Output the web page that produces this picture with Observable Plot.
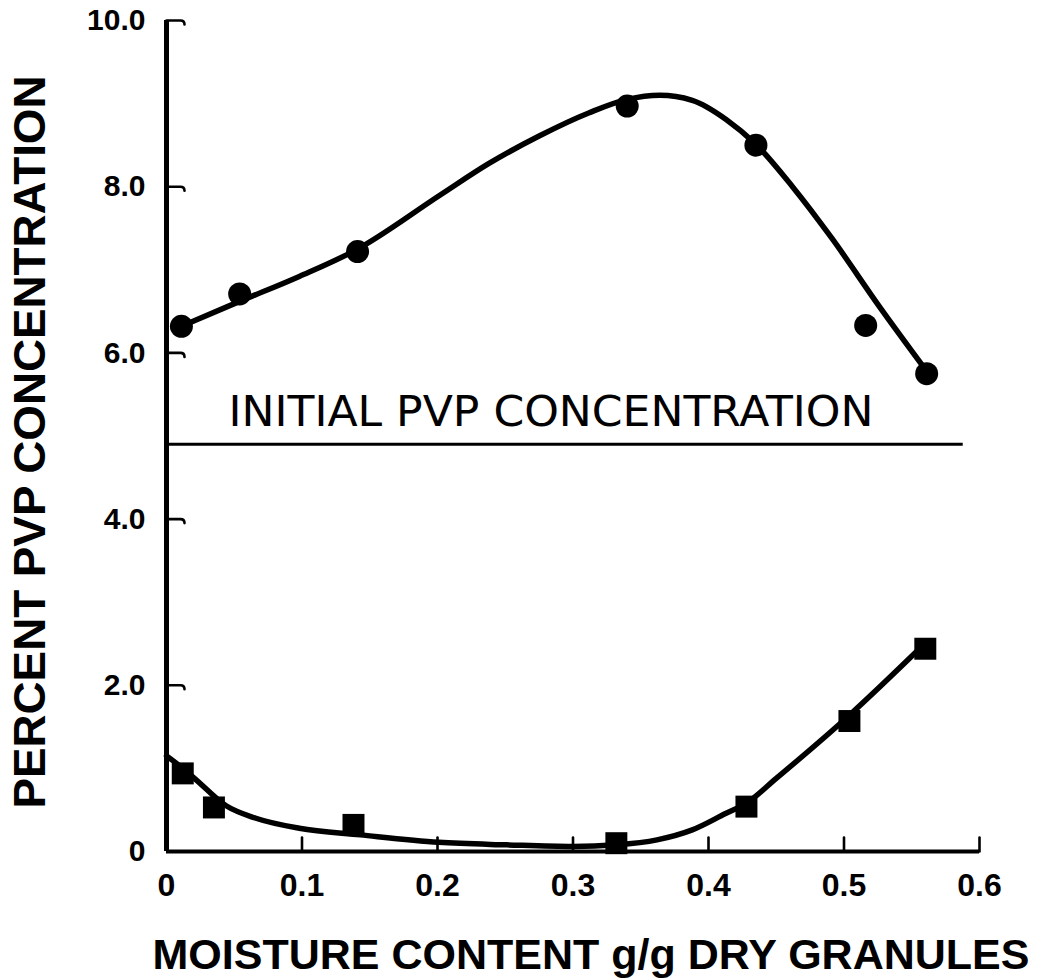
<!DOCTYPE html>
<html>
<head>
<meta charset="utf-8">
<script src="https://cdn.jsdelivr.net/npm/d3@7"></script>
<script src="https://cdn.jsdelivr.net/npm/@observablehq/plot@0.6"></script>
<style>
  html, body { margin: 0; padding: 0; background: #fff; }
  #chart svg { display: block; }
</style>
</head>
<body>
<div id="chart"></div>
<script>
// ---- data ----
const xTicks = [0, 0.1, 0.2, 0.3, 0.4, 0.5, 0.6];
const yTicks = [0, 2, 4, 6, 8, 10];

// measured points (circles: upper series, squares: lower series)
const circleX = [0.011, 0.054, 0.141, 0.340, 0.435, 0.516, 0.561];
const circleY = [6.32, 6.71, 7.22, 8.97, 8.50, 6.33, 5.75];
const squareX = [0.012, 0.035, 0.138, 0.332, 0.428, 0.504, 0.560];
const squareY = [0.94, 0.53, 0.32, 0.10, 0.54, 1.57, 2.44];

// hand-drawn smooth curves
const upperCurveX = [0.011, 0.054, 0.098, 0.140, 0.202, 0.238, 0.275, 0.312, 0.340, 0.364, 0.388, 0.413, 0.435, 0.462, 0.491, 0.526, 0.561];
const upperCurveY = [6.32, 6.62, 6.92, 7.24, 7.90, 8.28, 8.61, 8.89, 9.05, 9.10, 9.04, 8.81, 8.51, 8.00, 7.38, 6.56, 5.78];
const lowerCurveX = [0, 0.005, 0.020, 0.044, 0.066, 0.098, 0.143, 0.201, 0.251, 0.300, 0.332, 0.362, 0.388, 0.413, 0.427, 0.450, 0.504, 0.557];
const lowerCurveY = [1.15, 1.09, 0.89, 0.55, 0.40, 0.28, 0.20, 0.11, 0.08, 0.06, 0.08, 0.14, 0.26, 0.46, 0.57, 0.88, 1.64, 2.46];

const initialConcentration = 4.9;
const initialLineEnd = 0.588;
const initialLabel = "INITIAL PVP CONCENTRATION";
const xTitle = "MOISTURE CONTENT g/g DRY GRANULES";
const yTitle = "PERCENT PVP CONCENTRATION";

// ---- tables built from the arrays ----
const zip = (xs, ys) => xs.map((x, i) => ({x, y: ys[i]}));
const circles = zip(circleX, circleY);
const squares = zip(squareX, squareY);
const upperCurve = zip(upperCurveX, upperCurveY);
const lowerCurve = zip(lowerCurveX, lowerCurveY);

const ink = "#000";
const tickFormat = d => d === 0 ? "0" : d.toFixed(1);
const boldFont = "'Liberation Sans', Arial, sans-serif";

// tick shapes: y ticks point inward with a small downward hook, x ticks point up
const tickShapeY = {
  draw(ctx, l) {
    ctx.moveTo(0, 0);
    ctx.lineTo(0, -(l - 4));
    ctx.quadraticCurveTo(0, -l, 4, -l);
  }
};
const tickShapeX = {
  draw(ctx, l) {
    ctx.moveTo(0, 0);
    ctx.lineTo(0, -l);
  }
};

const chart = Plot.plot({
  width: 1037,
  height: 978,
  marginLeft: 166,
  marginRight: 58,
  marginTop: 20,
  marginBottom: 127,
  x: {domain: [0, 0.6]},
  y: {domain: [0, 10]},
  style: {fontFamily: "'DejaVu Sans', sans-serif", color: ink, background: "#fff", overflow: "visible"},
  marks: [
    Plot.axisX(xTicks, {
      tickSize: 0, tickPadding: 22, label: null, tickFormat,
      fontSize: 32, fontWeight: "bold", fontFamily: boldFont
    }),
    Plot.axisY(yTicks, {
      tickSize: 0, tickPadding: 21, label: null, tickFormat,
      fontSize: 30, fontWeight: "bold", fontFamily: boldFont
    }),
    Plot.vector(yTicks.filter(d => d > 0), {
      x: 0, y: d => d, length: 18, rotate: 90, anchor: "start",
      shape: tickShapeY, stroke: ink, strokeWidth: 2.6
    }),
    Plot.vector(xTicks.filter(d => d > 0), {
      x: d => d, y: 0, length: 14, rotate: 0, anchor: "start",
      shape: tickShapeX, stroke: ink, strokeWidth: 2.6
    }),
    Plot.ruleX([0], {y1: 0, y2: 10, stroke: ink, strokeWidth: 5}),
    Plot.ruleY([0], {x1: 0, x2: 0.6, stroke: ink, strokeWidth: 4}),
    Plot.ruleY([initialConcentration], {x1: 0, x2: initialLineEnd, stroke: ink, strokeWidth: 3}),
    Plot.text([initialLabel], {
      x: 0, y: initialConcentration, text: d => d, textAnchor: "start",
      dx: 62, dy: -32, fontSize: 42.5, fill: ink
    }),
    Plot.line(upperCurve, {x: "x", y: "y", curve: "monotone-x", stroke: ink, strokeWidth: 5.5}),
    Plot.line(lowerCurve, {x: "x", y: "y", curve: "monotone-x", stroke: ink, strokeWidth: 5.5}),
    Plot.dot(circles, {x: "x", y: "y", r: 11.5, fill: ink, stroke: null}),
    Plot.dot(squares, {x: "x", y: "y", r: 12.4, symbol: "square", fill: ink, stroke: null}),
    Plot.text([xTitle], {
      frameAnchor: "bottom", text: d => d, textAnchor: "middle", dx: 18, dy: 117,
      fontSize: 43, fontWeight: "bold", fontFamily: boldFont, fill: ink
    }),
    Plot.text([yTitle], {
      frameAnchor: "left", text: d => d, textAnchor: "middle", rotate: -90, dx: -136, dy: 6,
      fontSize: 44, fontWeight: "bold", fontFamily: boldFont, fill: ink
    })
  ]
});

// fit the long labels to the widths they have in the reference
chart.querySelectorAll("text").forEach(t => {
  const s = t.textContent;
  const fit = s === xTitle ? 877 : s === yTitle ? 733 : s === initialLabel ? 645 : null;
  if (fit) {
    t.setAttribute("textLength", fit);
    t.setAttribute("lengthAdjust", "spacingAndGlyphs");
  }
});

document.getElementById("chart").append(chart);
</script>
</body>
</html>
